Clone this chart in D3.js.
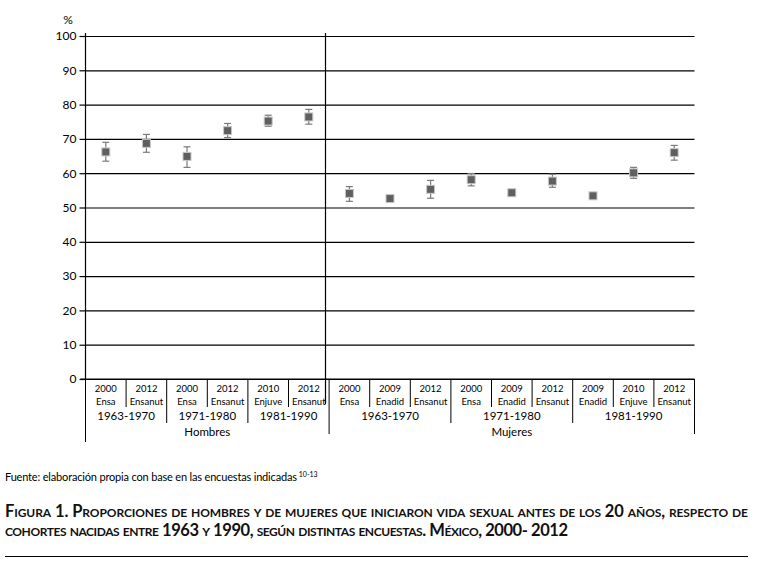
<!DOCTYPE html>
<html>
<head>
<meta charset="utf-8">
<script src="https://cdn.jsdelivr.net/npm/d3@7"></script>
<style>
  body { margin: 0; background: #fff; }
  svg { font-family: Lato, "Open Sans", sans-serif; }
</style>
</head>
<body>
<div class="chart"></div>
<script>
// data
const years   = ["2000","2012","2000","2012","2010","2012","2000","2009","2012","2000","2009","2012","2009","2010","2012"]
const surveys = ["Ensa","Ensanut","Ensa","Ensanut","Enjuve","Ensanut","Ensa","Enadid","Ensanut","Ensa","Enadid","Ensanut","Enadid","Enjuve","Ensanut"]
const cohorts = ["1963-1970","1963-1970","1971-1980","1971-1980","1981-1990","1981-1990",
                 "1963-1970","1963-1970","1963-1970","1971-1980","1971-1980","1971-1980","1981-1990","1981-1990","1981-1990"]
const groups  = ["Hombres","Hombres","Hombres","Hombres","Hombres","Hombres",
                 "Mujeres","Mujeres","Mujeres","Mujeres","Mujeres","Mujeres","Mujeres","Mujeres","Mujeres"]
const values  = [66.2, 68.7, 64.9, 72.4, 75.2, 76.4, 54.1, 52.6, 55.3, 58.1, 54.3, 57.7, 53.4, 60.1, 66.0]
const lower   = [63.5, 66.1, 61.7, 70.4, 73.7, 74.3, 51.8, 51.9, 52.7, 56.3, 53.6, 55.9, 52.8, 58.5, 63.8]
const upper   = [69.0, 71.3, 67.7, 74.5, 76.9, 78.6, 56.1, 53.3, 57.9, 59.9, 55.0, 59.7, 54.0, 61.7, 68.1]
const yTicks  = [0, 10, 20, 30, 40, 50, 60, 70, 80, 90, 100]

const w = 757
const h = 566

const svg = d3.select(".chart")
  .append("svg")
    .attr("width", w)
    .attr("height", h)

const idx = d3.range(values.length)

const x = d3.scaleBand()
  .domain(idx)
  .range([85.5, 694.5])

const y = d3.scaleLinear()
  .domain([0, 100])
  .range([379, 36])

const x0 = x.range()[0], x1 = x.range()[1]
const base = y(0)

// gridlines
svg.append("g")
  .attr("transform", `translate(${x0},0)`)
  .call(d3.axisLeft(y).tickValues(yTicks).tickSize(-(x1 - x0)).tickFormat(""))
  .call(g => g.select(".domain").remove())
  .selectAll("line")
    .attr("stroke", "#000")
    .attr("stroke-width", 1.2)

// left axis with ticks and labels
svg.append("g")
  .attr("transform", `translate(${x0},0)`)
  .call(d3.axisLeft(y).tickValues(yTicks).tickSize(6).tickPadding(3))
  .call(g => g.select(".domain").attr("stroke", "#000").attr("stroke-width", 1.2)
                .attr("d", `M0,${y(100) - 3}V${base}`))
  .call(g => g.selectAll("line").attr("stroke", "#000").attr("stroke-width", 1.2))
  .call(g => g.selectAll("text").attr("font-size", 12).attr("fill", "#000")
                .attr("font-family", "Lato, sans-serif"))

svg.append("text")
  .attr("x", 68)
  .attr("y", 24)
  .attr("text-anchor", "middle")
  .attr("font-size", 12)
  .text("%")

// border of the Hombres panel
svg.append("line")
  .attr("x1", 325.5).attr("x2", 325.5)
  .attr("y1", y(100) - 3).attr("y2", 404)
  .attr("stroke", "#000")
  .attr("stroke-width", 1.2)

// category separators under the baseline
const sep = svg.append("g").attr("stroke", "#000").attr("stroke-width", 1)
sep.append("line")
  .attr("x1", x0 - 5).attr("x2", x1)
  .attr("y1", base).attr("y2", base)
  .attr("stroke-width", 1.2)

idx.concat([values.length]).forEach(i => {
  let len = 407
  if (i === 0) len = 442
  else if (i === values.length || groups[i] !== groups[i - 1]) len = 434
  else if (cohorts[i] !== cohorts[i - 1]) len = 423
  const xp = i === values.length ? x1 : x(i)
  sep.append("line")
    .attr("x1", xp).attr("x2", xp)
    .attr("y1", base).attr("y2", len)
})

// category labels
const lab = svg.append("g").attr("text-anchor", "middle").attr("fill", "#000")
lab.selectAll(".yr")
  .data(idx)
  .join("text")
    .attr("class", "yr")
    .attr("x", i => x(i) + x.bandwidth() / 2)
    .attr("y", 392)
    .attr("font-size", 9.5)
    .text(i => years[i])
lab.selectAll(".sv")
  .data(idx)
  .join("text")
    .attr("class", "sv")
    .attr("x", i => x(i) + x.bandwidth() / 2)
    .attr("y", 405)
    .attr("font-size", 9.5)
    .text(i => surveys[i])

// span helper for grouped labels
function spans(arr, keyFn) {
  const out = []
  idx.forEach(i => {
    const k = keyFn(i)
    if (out.length && out[out.length - 1].key === k) out[out.length - 1].end = i
    else out.push({ key: k, label: arr[i], start: i, end: i })
  })
  return out
}

lab.selectAll(".co")
  .data(spans(cohorts, i => groups[i] + cohorts[i]))
  .join("text")
    .attr("class", "co")
    .attr("x", d => (x(d.start) + x(d.end) + x.bandwidth()) / 2)
    .attr("y", 420)
    .attr("font-size", 11.5)
    .text(d => d.label)

lab.selectAll(".gr")
  .data(spans(groups, i => groups[i]))
  .join("text")
    .attr("class", "gr")
    .attr("x", d => (x(d.start) + x(d.end) + x.bandwidth()) / 2)
    .attr("y", 436)
    .attr("font-size", 11.5)
    .text(d => d.label)

// error bars
const cx = i => x(i) + x.bandwidth() / 2
const err = svg.append("g").attr("stroke", "#7a7a7a").attr("stroke-width", 1.2)
idx.forEach(i => {
  err.append("line").attr("x1", cx(i)).attr("x2", cx(i)).attr("y1", y(lower[i])).attr("y2", y(upper[i]))
  err.append("line").attr("x1", cx(i) - 3.5).attr("x2", cx(i) + 3.5).attr("y1", y(lower[i])).attr("y2", y(lower[i]))
  err.append("line").attr("x1", cx(i) - 3.5).attr("x2", cx(i) + 3.5).attr("y1", y(upper[i])).attr("y2", y(upper[i]))
})

// markers
svg.append("g")
  .selectAll("rect")
  .data(idx)
  .join("rect")
    .attr("x", i => cx(i) - 4)
    .attr("y", i => y(values[i]) - 4)
    .attr("width", 8)
    .attr("height", 8)
    .attr("fill", "#5f5f5f")
    .attr("stroke", "#c8c8c8")
    .attr("stroke-width", 1)

// source note
const src = svg.append("text")
  .attr("x", 5)
  .attr("y", 481)
  .attr("font-size", 11)
  .attr("fill", "#000")
src.append("tspan")
  .attr("textLength", 292)
  .text("Fuente: elaboración propia con base en las encuestas indicadas")
src.append("tspan").attr("font-size", 7).attr("dy", -4.5).attr("dx", 2).text("10-13")

// caption
const cap = svg.append("g")
  .attr("font-size", 16.5)
  .attr("font-weight", "bold")
  .attr("fill", "#111")
  .style("font-variant", "small-caps")
cap.append("text")
  .attr("x", 5)
  .attr("y", 517)
  .attr("textLength", 743)
  .attr("lengthAdjust", "spacing")
  .text("Figura 1. Proporciones de hombres y de mujeres que iniciaron vida sexual antes de los 20 años, respecto de")
cap.append("text")
  .attr("x", 5)
  .attr("y", 536)
  .attr("textLength", 563)
  .attr("lengthAdjust", "spacing")
  .text("cohortes nacidas entre 1963 y 1990, según distintas encuestas. México, 2000- 2012")

svg.append("line")
  .attr("x1", 5).attr("x2", 748)
  .attr("y1", 556.5).attr("y2", 556.5)
  .attr("stroke", "#000")
  .attr("stroke-width", 1)
</script>
</body>
</html>
